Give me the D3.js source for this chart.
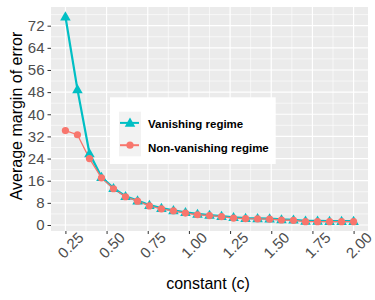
<!DOCTYPE html>
<html><head><meta charset="utf-8">
<script src="https://cdn.jsdelivr.net/npm/d3@7"></script>
<style>body{margin:0;background:#fff}svg{display:block;font-family:"Liberation Sans",Arial,sans-serif}</style>
</head><body>
<svg id="chart" width="375" height="300"></svg>
<script>
const constantC = [0.250,0.323,0.396,0.469,0.542,0.615,0.688,0.760,0.833,0.906,0.979,1.052,1.125,1.198,1.271,1.344,1.417,1.490,1.562,1.635,1.708,1.781,1.854,1.927,2.000];
const vanishing = [75.3,49.0,25.9,17.3,13.3,10.4,8.8,7.2,6.1,5.3,4.6,4.0,3.6,3.2,2.8,2.5,2.4,2.3,2.0,1.9,1.5,1.5,1.4,1.4,1.4];
const nonVanishing = [34.1,32.6,24.0,17.0,13.1,10.2,8.6,6.9,5.8,5.1,4.3,3.7,3.4,3.0,2.5,2.3,2.2,2.1,1.8,1.7,1.2,1.2,1.2,1.2,1.2];
const seriesNames = ["Vanishing regime","Non-vanishing regime"];
const xTicks = [0.25,0.50,0.75,1.00,1.25,1.50,1.75,2.00];
const xMinor = [0.375,0.625,0.875,1.125,1.375,1.625,1.875];
const yTicks = [0,8,16,24,32,40,48,56,64,72];
const yMinor = [4,12,20,28,36,44,52,60,68,76];
const xTitle = "constant (c)";
const yTitle = "Average margin of error";

const TEAL = "#00BFC4", SALMON = "#F8766D";
const svg = d3.select("#chart");
const P = {l:51, r:368, t:7, b:231};
const x = d3.scaleLinear().domain([0.1625, 2.0875]).range([P.l, P.r]);
const y = d3.scaleLinear().domain([-2.17, 78.75]).range([P.b, P.t]);

svg.append("rect").attr("x",P.l).attr("y",P.t).attr("width",P.r-P.l).attr("height",P.b-P.t).attr("fill","#EBEBEB");
const grid = svg.append("g");
grid.selectAll(".xm").data(xMinor).join("line").attr("x1",d=>x(d)).attr("x2",d=>x(d)).attr("y1",P.t).attr("y2",P.b).attr("stroke","#fff").attr("stroke-width",0.6);
grid.selectAll(".ym").data(yMinor).join("line").attr("y1",d=>y(d)).attr("y2",d=>y(d)).attr("x1",P.l).attr("x2",P.r).attr("stroke","#fff").attr("stroke-width",0.6);
grid.selectAll(".xM").data(xTicks).join("line").attr("x1",d=>x(d)).attr("x2",d=>x(d)).attr("y1",P.t).attr("y2",P.b).attr("stroke","#fff").attr("stroke-width",1.2);
grid.selectAll(".yM").data(yTicks).join("line").attr("y1",d=>y(d)).attr("y2",d=>y(d)).attr("x1",P.l).attr("x2",P.r).attr("stroke","#fff").attr("stroke-width",1.2);

// axes
const yAxis = svg.append("g").attr("transform",`translate(${P.l},0)`)
  .call(d3.axisLeft(y).tickValues(yTicks).tickSize(3.5).tickPadding(3).tickFormat(d3.format("d")));
yAxis.select(".domain").remove();
yAxis.selectAll("line").attr("stroke","#333");
yAxis.selectAll("text").attr("fill","#4D4D4D").style("font-size","15px").style("font-family","Liberation Sans, Arial");

const xAxis = svg.append("g").attr("transform",`translate(0,${P.b})`)
  .call(d3.axisBottom(x).tickValues(xTicks).tickSize(3).tickFormat(d3.format(".2f")));
xAxis.select(".domain").remove();
xAxis.selectAll("line").attr("stroke","#333");
xAxis.selectAll("text").attr("fill","#4D4D4D").style("font-size","15px").style("font-family","Liberation Sans, Arial")
  .attr("y",null).attr("dy",null).attr("text-anchor","middle").attr("dominant-baseline","central")
  .attr("transform","translate(4.5,14) rotate(-45)");

svg.append("text").attr("x",208).attr("y",289).attr("text-anchor","middle").style("font-size","16px").attr("fill","#000").text(xTitle);
svg.append("text").attr("transform","translate(21.5,116) rotate(-90)").attr("text-anchor","middle").style("font-size","16px").attr("fill","#000").text(yTitle);

const vData = constantC.map((c,i)=>({c, v:vanishing[i]}));
const nData = constantC.map((c,i)=>({c, v:nonVanishing[i]}));
const line = d3.line().x(d=>x(d.c)).y(d=>y(d.v));
svg.append("path").datum(vData).attr("d",line).attr("fill","none").attr("stroke",TEAL).attr("stroke-width",2.2);
svg.append("path").datum(nData).attr("d",line).attr("fill","none").attr("stroke",SALMON).attr("stroke-width",1.3);
const tri = d3.symbol().type(d3.symbolTriangle).size(48);
svg.selectAll(".tri").data(vData).join("path").attr("d",tri).attr("transform",d=>`translate(${x(d.c)},${y(d.v)+0.8})`).attr("fill",TEAL);
svg.selectAll(".dot").data(nData).join("circle").attr("cx",d=>x(d.c)).attr("cy",d=>y(d.v)).attr("r",3.6).attr("fill",SALMON);

// legend
const lg = svg.append("g");
lg.append("rect").attr("x",110).attr("y",97.3).attr("width",165.7).attr("height",66.7).attr("fill","#fff");
const keys = [{name:seriesNames[0],col:TEAL,shape:"tri",ky:111.7,ty:128},{name:seriesNames[1],col:SALMON,shape:"dot",ky:134,ty:151.5}];
keys.forEach(k=>{
  lg.append("rect").attr("x",119).attr("y",k.ky).attr("width",22).attr("height",22.3).attr("fill","#F2F2F2");
  const cy = k.ky+11.2;
  lg.append("line").attr("x1",120).attr("x2",139).attr("y1",cy).attr("y2",cy).attr("stroke",k.col).attr("stroke-width",2);
  if(k.shape==="tri") lg.append("path").attr("d",tri).attr("transform",`translate(130,${cy+0.8})`).attr("fill",k.col);
  else lg.append("circle").attr("cx",130).attr("cy",cy).attr("r",3.6).attr("fill",k.col);
  lg.append("text").attr("x",148).attr("y",k.ty).style("font-size","11.5px").style("font-weight","bold").attr("fill","#000").text(k.name);
});
</script>
</body></html>
